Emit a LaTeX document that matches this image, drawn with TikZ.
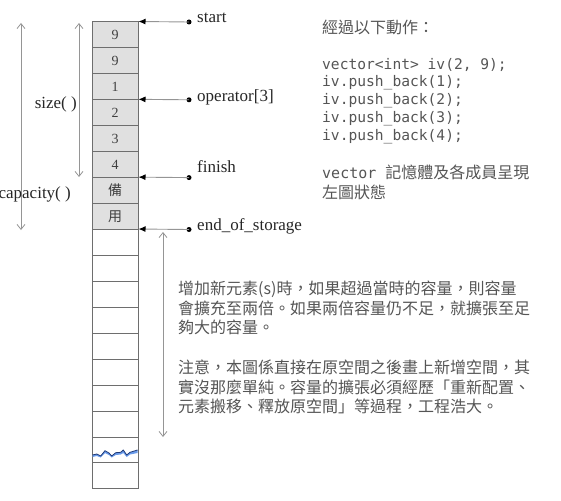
\documentclass[tikz,border=0pt]{standalone}
\usepackage{fontspec}
\setmainfont{Liberation Serif}
\newfontfamily\cjk{Noto Sans CJK TC}
\newfontfamily\codefont{DejaVu Sans Mono}
\usetikzlibrary{arrows.meta}
\definecolor{cellfill}{HTML}{E0E0E0}
\definecolor{cellline}{HTML}{6E6E6E}
\definecolor{txt}{HTML}{555555}
\definecolor{arrowgray}{HTML}{959595}
\definecolor{wavefill}{HTML}{6A9BEA}
\definecolor{waveline}{HTML}{1F3A78}
\begin{document}
\begin{tikzpicture}[x=1pt,y=-1pt,
  cellbox/.style={draw=cellline, line width=1pt, minimum width=46pt, minimum height=25.94pt, inner sep=0pt, text=black!75, font=\fontsize{14}{14}\selectfont},
  fullcell/.style={cellbox, fill=cellfill},
  ptrdot/.style={circle, fill=black, inner sep=0pt, minimum size=5pt},
  ptrlabel/.style={anchor=west, inner sep=0pt, text=black!85, font=\fontsize{17}{17}\selectfont},
  dimlabel/.style={anchor=east, inner sep=0pt, text=black!85, font=\fontsize{17}{17}\selectfont},
  ptr/.style={draw=arrowgray, line width=0.9pt, -{Latex[length=7pt,width=6pt,color=black]}},
  dimarrow/.style={draw=arrowgray, line width=0.8pt, {Straight Barb[length=5pt,width=8pt]}-{Straight Barb[length=5pt,width=8pt]}},
  cjktext/.style={anchor=west, inner sep=0pt, text=txt, font=\cjk\fontsize{16}{16}\selectfont},
  codetext/.style={anchor=west, inner sep=0pt, text=txt, font=\codefont\fontsize{14.6}{14.6}\selectfont}
]
\useasboundingbox (0,0) rectangle (561,500);
% cells
\foreach \i/\t in {1/9,2/9,3/1,4/2,5/3,6/4,7/{\cjk 備},8/{\cjk 用}}
  \node[fullcell] (c\i) at (115,{22+25.94*\i-12.97}) {\t};
\foreach \i in {9,...,18}
  \node[cellbox] (c\i) at (115,{22+25.94*\i-12.97}) {};
% wavy break mark
\fill[wavefill] (92.5,455) -- (96.7,454) -- (100.7,456) -- (105,450.7) -- (109,453) -- (111.7,456) -- (115.7,452.7) -- (120.7,452.3) -- (123.3,450) -- (126.7,455) -- (130,452.3) -- (137.5,450)
  -- (137.5,453) -- (130,454.5) -- (126.7,457) -- (123.3,453) -- (120.7,454.5) -- (115.7,455) -- (111.7,457.5) -- (109,455) -- (105,453) -- (100.7,457.5) -- (96.7,456) -- (92.5,457) -- cycle;
\draw[waveline, line width=0.8pt, line join=round] (92.5,455) -- (96.7,454) -- (100.7,456) -- (105,450.7) -- (109,453) -- (111.7,456) -- (115.7,452.7) -- (120.7,452.3) -- (123.3,450) -- (126.7,455) -- (130,452.3) -- (137.5,450);
% pointers
\node[ptrdot] (dstart) at (189,22) {};
\node[ptrdot] (dop) at (189,99.8) {};
\node[ptrdot] (dfin) at (189,177.6) {};
\node[ptrdot] (deos) at (189,229.5) {};
\draw[ptr] (dstart.center) -- (c1.north east);
\draw[ptr] (dop.center) -- (c4.north east);
\draw[ptr] (dfin.center) -- (c7.north east);
\draw[ptr] (deos.center) -- (c9.north east);
\node[ptrlabel] (lstart) at (197,18) {start};
\node[ptrlabel] (lop) at (197,97) {operator[3]};
\node[ptrlabel] (lfin) at (197,167) {finish};
\node[ptrlabel] (leos) at (197,226) {end\_of\_storage};
% dimension arrows
\coordinate (s1) at (79,23);
\coordinate (s2) at (79,177);
\coordinate (k1) at (21,23);
\coordinate (k2) at (21,230);
\coordinate (e1) at (163,232);
\coordinate (e2) at (163,437);
\draw[dimarrow] (s1) -- (s2);
\draw[dimarrow] (k1) -- (k2);
\draw[dimarrow] (e1) -- (e2);
\node[dimlabel] (lsize) at (77,104) {size( )};
\node[dimlabel] (lcap) at (71,194) {capacity( )};
% right text
\node[cjktext] (head) at (322,27) {經過以下動作：};
\node[codetext] (code1) at (322,65) {vector<int> iv(2, 9);};
\node[codetext] (code2) at (322,83) {iv.push\_back(1);};
\node[codetext] (code3) at (322,101) {iv.push\_back(2);};
\node[codetext] (code4) at (322,119) {iv.push\_back(3);};
\node[codetext] (code5) at (322,137) {iv.push\_back(4);};
\node[cjktext] (desc1) at (322,172) {{\codefont\fontsize{15}{15}\selectfont vector }記憶體及各成員呈現};
\node[cjktext] (desc2) at (322,192) {左圖狀態};
% bottom text
\node[cjktext] (b1) at (178,289) {增加新元素(s)時，如果超過當時的容量，則容量};
\node[cjktext] (b2) at (178,308) {會擴充至兩倍。如果兩倍容量仍不足，就擴張至足};
\node[cjktext] (b3) at (178,327) {夠大的容量。};
\node[cjktext] (b4) at (178,367) {注意，本圖係直接在原空間之後畫上新增空間，其};
\node[cjktext] (b5) at (178,387) {實沒那麼單純。容量的擴張必須經歷「重新配置、};
\node[cjktext] (b6) at (178,406) {元素搬移、釋放原空間」等過程，工程浩大。};
\end{tikzpicture}
\end{document}
